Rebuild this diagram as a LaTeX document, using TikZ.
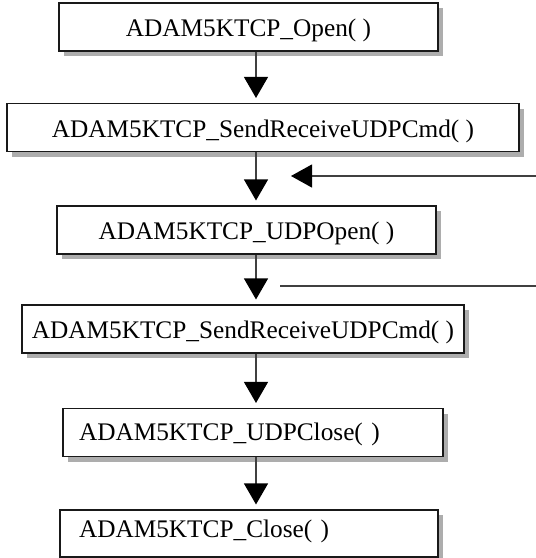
\documentclass[tikz,border=0pt]{standalone}
\usepackage{fontspec}
\setmainfont{Liberation Serif}
\usetikzlibrary{arrows.meta, shadows}

\begin{document}
\begin{tikzpicture}[
    x=1pt, y=-1pt,
    box/.style={rectangle, draw=black!90, line width=1.1pt, fill=white, inner sep=0pt, minimum height=48pt, text height=25pt, text depth=6pt, font=\fontsize{25.3}{30}\selectfont, drop shadow={shadow xshift=5pt, shadow yshift=-5pt, opacity=1, fill=black!32}},
    flow/.style={-{Triangle[width=24pt, length=21pt, color=black]}, line width=1.1pt, draw=black!75, shorten >=5pt},
    feed/.style={line width=1.1pt, draw=black!75}
]
    \useasboundingbox (0,0) rectangle (536,558);

    % call sequence
    \node[box, minimum width=379pt] (open) at (248.5,27) {ADAM5KTCP\_Open( )};
    \node[box, minimum width=512pt] (sendA) at (263,127.5) {ADAM5KTCP\_SendReceiveUDPCmd( )};
    \node[box, minimum width=379pt] (udpopen) at (246.5,230) {ADAM5KTCP\_UDPOpen( )};
    \node[box, minimum width=442pt] (sendB) at (243,329) {ADAM5KTCP\_SendReceiveUDPCmd( )};
    \node[box, inner xsep=16pt, text width=348pt, align=left, text height=22pt, text depth=7pt] (udpclose) at (253,432.5) {ADAM5KTCP\_UDPClose( )};
    \node[box, inner xsep=19pt, text width=340pt, align=left, minimum height=47pt, text height=20pt, text depth=13pt] (close) at (249,533.5) {ADAM5KTCP\_Close( )};

    \coordinate (spine) at (256,0);
    \coordinate (loopin) at (536,176);
    \coordinate (looptip) at (291,176);
    \coordinate (loopfrom) at (280,286);
    \coordinate (loopout) at (536,286);

    \draw[flow] (open.south -| spine) -- (sendA.north -| spine);
    \draw[flow] (sendA.south -| spine) -- (udpopen.north -| spine);
    \draw[flow] (udpopen.south -| spine) -- (sendB.north -| spine);
    \draw[flow] (sendB.south -| spine) -- (udpclose.north -| spine);
    \draw[flow] (udpclose.south -| spine) -- (close.north -| spine);

    % loop lines on the right
    \draw[flow, shorten >=0pt, -{Triangle[width=23pt, length=21pt, color=black]}] (loopin) -- (looptip);
    \draw[feed] (loopfrom) -- (loopout);
\end{tikzpicture}
\end{document}
